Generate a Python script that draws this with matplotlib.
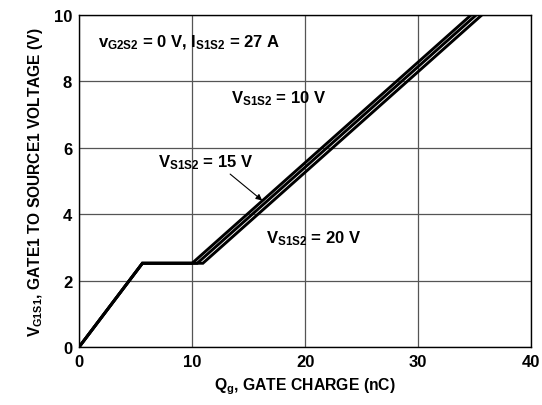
import matplotlib
matplotlib.use('Agg')
import matplotlib.pyplot as plt

plt.rcParams['font.family'] = ['Liberation Sans', 'DejaVu Sans']
plt.rcParams['font.weight'] = 'bold'
plt.rcParams['mathtext.fontset'] = 'custom'
plt.rcParams['mathtext.rm'] = 'Liberation Sans:bold'
plt.rcParams['mathtext.it'] = 'Liberation Sans:bold'
plt.rcParams['mathtext.bf'] = 'Liberation Sans:bold'
plt.rcParams['mathtext.default'] = 'rm'

# Curvas de carga de compuerta: (Qg en nC, Vgs en V)
qg_10v = [0, 5.6, 10.0, 34.7]
vg_10v = [0, 2.52, 2.52, 10.0]
qg_15v = [0, 5.6, 10.45, 35.15]
vg_15v = [0, 2.52, 2.52, 10.0]
qg_20v = [0, 5.6, 10.95, 35.65]
vg_20v = [0, 2.52, 2.52, 10.0]

x_ticks = [0, 10, 20, 30, 40]
y_ticks = [0, 2, 4, 6, 8, 10]

fig = plt.figure(figsize=(5.42, 4.06), dpi=100)
ax = fig.add_axes([0.146, 0.143, 0.834, 0.818])

for qg, vg in [(qg_10v, vg_10v), (qg_15v, vg_15v), (qg_20v, vg_20v)]:
    ax.plot(qg, vg, color='black', lw=2.1, solid_joinstyle='miter')

ax.set_xlim(0, 40)
ax.set_ylim(0, 10)
ax.set_xticks(x_ticks)
ax.set_yticks(y_ticks)
ax.tick_params(length=0, labelsize=12, pad=5)
for lbl in ax.get_xticklabels() + ax.get_yticklabels():
    lbl.set_fontweight('bold')
ax.grid(True, color='#555555', lw=0.9)
for s in ax.spines.values():
    s.set_linewidth(1.0)
    s.set_color('black')

ax.set_xlabel(r'$Q_g$, GATE CHARGE (nC)', fontsize=11.3, fontweight='bold', labelpad=5)
ax.set_ylabel(r'$V_{G1S1}$, GATE1 TO SOURCE1 VOLTAGE (V)', fontsize=11.2,
              fontweight='bold', labelpad=6)

fs = 12
ax.text(1.7, 9.2, r'$v_{G2S2}$ = 0 V, $I_{S1S2}$ = 27 A', fontsize=fs,
        fontweight='bold', va='center', ha='left')
ax.text(13.4, 7.5, r'$V_{S1S2}$ = 10 V', fontsize=fs, fontweight='bold',
        va='center', ha='left')
ax.text(16.5, 3.3, r'$V_{S1S2}$ = 20 V', fontsize=fs, fontweight='bold',
        va='center', ha='left')
ax.annotate(r'$V_{S1S2}$ = 15 V', xy=(16.2, 4.41), xytext=(7.0, 5.57),
            fontsize=fs, fontweight='bold', va='center', ha='left',
            arrowprops=dict(arrowstyle='-|>', color='black', lw=0.8,
                            shrinkA=0, shrinkB=0, mutation_scale=9,
                            relpos=(0.72, 0.0)))

fig.savefig('out.png', dpi=100)
